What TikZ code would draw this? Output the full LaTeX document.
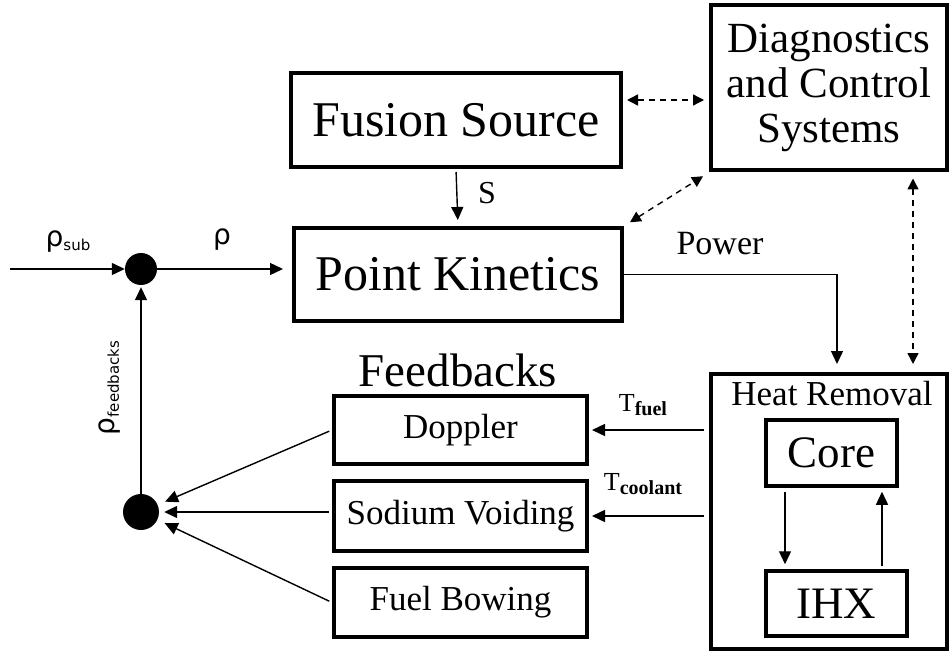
\documentclass[tikz,border=0pt]{standalone}
\usepackage{fontspec}
\setmainfont{Liberation Serif}
\newfontfamily\rhofont{DejaVu Sans}
\usetikzlibrary{arrows.meta,calc}
\newcommand\fsz[2]{\fontsize{#1}{#2}\selectfont}
\begin{document}
\begin{tikzpicture}[x=1pt,y=-1pt,
  blk/.style={draw, line width=4pt, inner sep=0pt, align=center},
  arr/.style={-{Triangle[length=13pt,width=12pt]}, line width=1.4pt},
  darr/.style={{Triangle[length=11pt,width=11pt]}-{Triangle[length=11pt,width=11pt]}, line width=1.4pt, dash pattern=on 6pt off 5pt},
  sumdot/.style={circle, fill, inner sep=0pt, minimum size=#1},
  lbl/.style={inner sep=0pt}]
\useasboundingbox (0,0) rectangle (951,655);

% main blocks
\node[blk, minimum width=330pt, minimum height=94pt, font=\fsz{50}{55}] (fus) at (456,120) {Fusion Source};
\node[blk, minimum width=328pt, minimum height=93pt, font=\fsz{50}{55}] (pk) at (458,274.5) {Point Kinetics};
\node[blk, minimum width=236pt, minimum height=165pt, font=\fsz{43}{45}] (diag) at (829,88) {Diagnostics\\and Control\\Systems};
\node[blk, minimum width=236pt, minimum height=275pt] (hr) at (829,511.5) {};
\node[lbl, font=\fsz{35}{40}] (hrl) at (832,394) {Heat Removal};
\node[blk, line width=3.5pt, minimum width=131pt, minimum height=66pt, font=\fsz{45}{50}] (core) at (831.5,453) {Core};
\node[blk, line width=3.5pt, minimum width=141pt, minimum height=65pt, font=\fsz{45}{50}] (ihx) at (836.5,603.5) {IHX};

% feedback blocks
\node[lbl, font=\fsz{47}{50}] (fbl) at (458,370) {Feedbacks};
\node[blk, minimum width=253pt, minimum height=68pt, font=\fsz{35}{40}] (dop) at (460.5,430) {Doppler};
\node[blk, minimum width=253pt, minimum height=70pt, font=\fsz{35}{40}] (sod) at (460.5,516) {Sodium Voiding};
\node[blk, minimum width=253pt, minimum height=69pt, font=\fsz{35}{40}] (fb) at (460.5,602.5) {Fuel Bowing};

% summing junctions
\node[sumdot=32pt] (sumA) at (141,269) {};
\node[sumdot=36pt] (sumB) at (141,512) {};
\coordinate (in) at (10,269);

% labels
\node[lbl] (lsub) at (68,242) {\rhofont\fsz{28}{28}ρ\raisebox{-4pt}{\fsz{15}{15}sub}};
\node[lbl] (lrho) at (222,240) {\rhofont\fsz{28}{28}ρ};
\node[lbl, rotate=90] (lfb) at (110,388) {\rhofont\fsz{28}{28}ρ\raisebox{-4pt}{\fsz{15}{15}feedbacks}};
\node[lbl, font=\fsz{32}{35}] (ls) at (487,193) {S};
\node[lbl, font=\fsz{34}{35}] (lpow) at (720,244) {Power};
\node[lbl] (ltf) at (643,405) {\fsz{26}{26}T\raisebox{-4pt}{\fsz{20}{20}\bfseries fuel}};
\node[lbl] (ltc) at (643,484) {\fsz{26}{26}T\raisebox{-4pt}{\fsz{20}{20}\bfseries coolant}};

% solid connectors
\draw[arr] (in) -- (sumA);
\draw[arr, shorten >=9pt] (sumA) -- (sumA -| pk.west);
\draw[arr, shorten <=3pt, shorten >=6pt] (fus.south) -- (pk.north);
\coordinate (pwr) at ($(hr.north)+(8,0)$);
\draw[arr, shorten >=8pt] (pk.east) -| (pwr);
\draw[arr, shorten >=2pt] (sumB) -- (sumA);
\draw[arr, shorten <=3pt, shorten >=8pt] (dop.west) -- (sumB);
\draw[arr, shorten <=3pt, shorten >=5pt] (sod.west |- sumB) -- (sumB);
\draw[arr, shorten <=3pt, shorten >=8pt] (fb.west) -- (sumB);
\draw[arr, shorten <=5pt, shorten >=3pt] (hr.west |- dop.east) -- (dop.east);
\draw[arr, shorten <=5pt, shorten >=3pt] (hr.west |- sod.east) -- (sod.east);
\coordinate (cx1) at (785,0);
\coordinate (cx2) at (882,0);
\draw[arr, shorten <=4pt, shorten >=5pt] (core.south -| cx1) -- (ihx.north -| cx1);
\draw[arr, shorten <=3pt, shorten >=4pt] (ihx.north -| cx2) -- (core.south -| cx2);

% dashed connectors
\coordinate (dh) at (0,100);
\coordinate (dv) at (913,0);
\draw[darr, shorten <=4pt, shorten >=5pt] (fus.east |- dh) -- (diag.west |- dh);
\draw[darr, shorten <=7pt, shorten >=7pt] (pk.north east) -- (diag.south west);
\draw[darr, shorten <=6pt, shorten >=8pt] (diag.south -| dv) -- (hr.north -| dv);
\end{tikzpicture}
\end{document}
